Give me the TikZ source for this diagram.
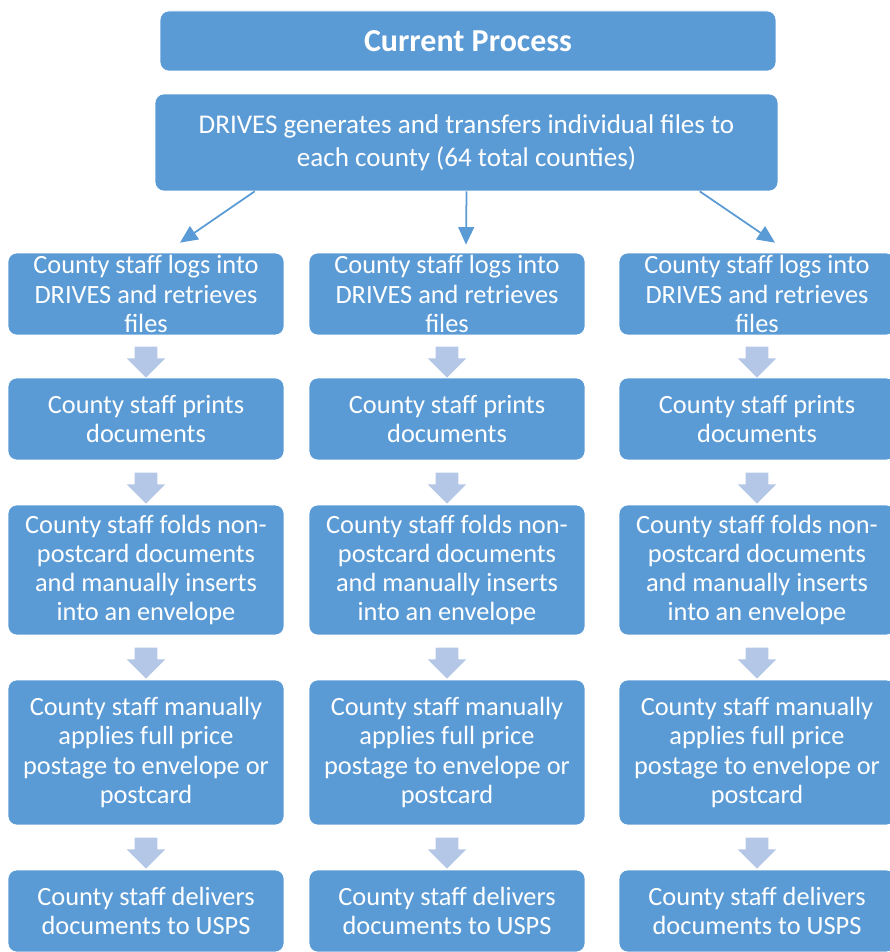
\documentclass[tikz,border=0pt]{standalone}
\usepackage{fontspec}
\setmainfont{Carlito}
\usetikzlibrary{shapes.arrows,arrows.meta,calc}

\definecolor{boxblue}{HTML}{5B9BD5}
\definecolor{flowblue}{HTML}{B4C7E7}

\tikzset{
  procbox/.style={fill=boxblue, draw=white, line width=0.4pt, rounded corners=5pt,
    text=white, align=center, inner sep=0pt,
    font=\fontsize{15}{16.6}\selectfont},
  flowarrow/.style={single arrow, fill=flowblue, draw=none, rotate=-90,
    inner xsep=0pt, inner ysep=0.22cm, minimum height=0.62cm,
    single arrow head extend=0.16cm},
  fanarrow/.style={-{Triangle[length=10pt,width=9pt]}, draw=boxblue, line width=1pt}
}

\begin{document}
\begin{tikzpicture}[x=0.02cm,y=-0.02cm]
    \useasboundingbox (0,0) rectangle (889,952);

    % header boxes
    \node[procbox, minimum width=12.32cm, minimum height=1.2cm,
          font=\fontsize{18.2}{20}\selectfont\bfseries] (title) at (468,41) {Current Process};
    \node[procbox, minimum width=12.46cm, minimum height=1.94cm,
          font=\fontsize{15.4}{18.7}\selectfont] (drives) at (466.5,142.5)
        {DRIVES generates and transfers individual files to\\each county (64 total counties)};

    % three identical county columns
    \foreach \c/\x in {a/146, b/447, c/757} {
        \node[procbox, minimum width=5.52cm, minimum height=1.64cm] (\c1) at (\x,294)
            {County staff logs into\\DRIVES and retrieves\\files};
        \node[procbox, minimum width=5.52cm, minimum height=1.64cm] (\c2) at (\x,419)
            {County staff prints\\documents};
        \node[procbox, minimum width=5.52cm, minimum height=2.6cm] (\c3) at (\x,570)
            {County staff folds non-\\postcard documents\\and manually inserts\\into an envelope};
        \node[procbox, minimum width=5.52cm, minimum height=2.9cm] (\c4) at (\x,752.5)
            {County staff manually\\applies full price\\postage to envelope or\\postcard};
        \node[procbox, minimum width=5.52cm, minimum height=1.64cm] (\c5) at (\x,911)
            {County staff delivers\\documents to USPS};
        \foreach \i/\j in {1/2, 2/3, 3/4, 4/5}
            \path (\c\i.south) -- (\c\j.north) node[midway, flowarrow] {};
    }

    % fan out from DRIVES
    \draw[fanarrow] ($(drives.south west)+(100,0)$) -- ($(a1.north)+(34,-10)$);
    \draw[fanarrow] (drives.south) -- ($(b1.north)+(19,-8)$);
    \draw[fanarrow] ($(drives.south west)+(545,0)$) -- ($(c1.north)+(18,-10)$);
\end{tikzpicture}
\end{document}
